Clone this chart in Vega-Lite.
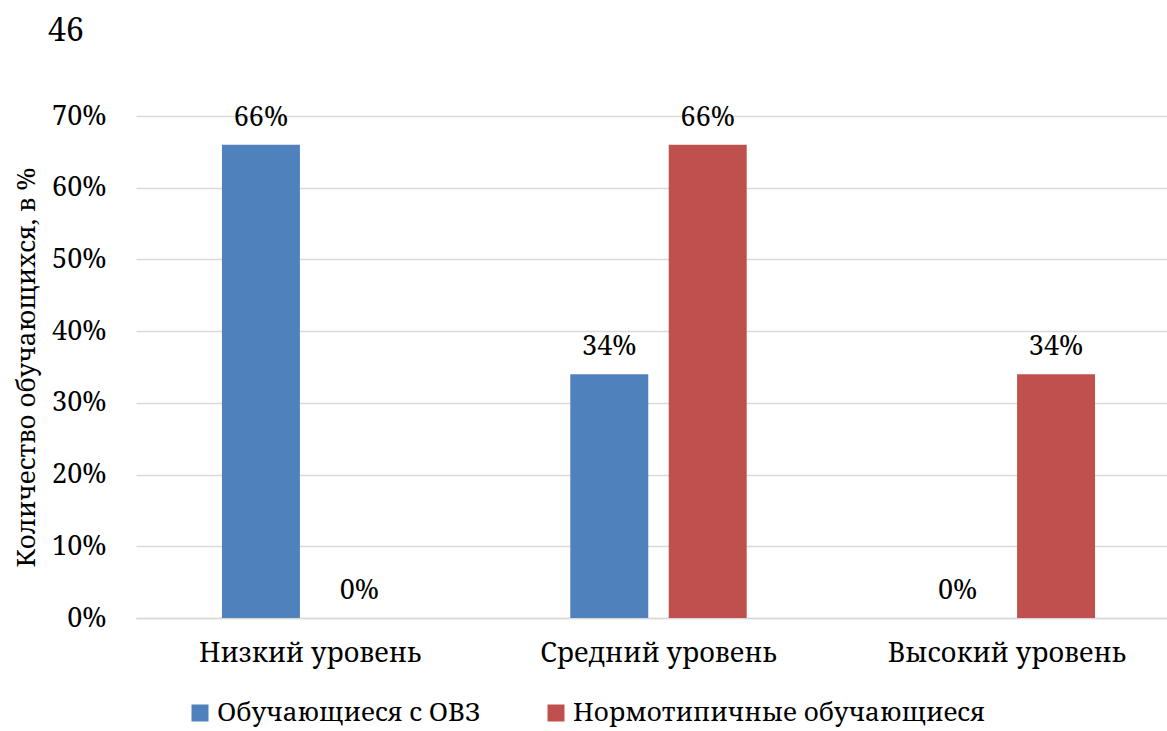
{
  "$schema": "https://vega.github.io/schema/vega-lite/v6.json",
  "autosize": {"type": "none"},
  "padding": {"left": 136, "top": 116, "right": 0, "bottom": 113},
  "width": 1031,
  "height": 502,
  "background": "white",
  "title": {"text": "46", "anchor": "start", "frame": "group", "dx": -88, "offset": 54, "font": "Noto Serif", "fontSize": 32, "fontWeight": "normal", "color": "black"},
  "data": {"values": [
    {"level": "Низкий уровень", "group": "Обучающиеся с ОВЗ", "value": 0.66},
    {"level": "Низкий уровень", "group": "Нормотипичные обучающиеся", "value": 0.0},
    {"level": "Средний уровень", "group": "Обучающиеся с ОВЗ", "value": 0.34},
    {"level": "Средний уровень", "group": "Нормотипичные обучающиеся", "value": 0.66},
    {"level": "Высокий уровень", "group": "Обучающиеся с ОВЗ", "value": 0.0},
    {"level": "Высокий уровень", "group": "Нормотипичные обучающиеся", "value": 0.34}
  ]},
  "encoding": {
    "x": {"field": "level", "type": "nominal", "sort": ["Низкий уровень", "Средний уровень", "Высокий уровень"],
      "scale": {"paddingInner": 0, "paddingOuter": 0, "range": [0, 1045]},
      "axis": {"title": null, "labelAngle": 0, "labelFont": "Noto Serif", "labelFontSize": 27, "labelColor": "black", "labelPadding": 22, "labelLimit": 600, "ticks": false, "domainColor": "#d9d9d9", "domainWidth": 1.5, "grid": false}},
    "xOffset": {"field": "group", "type": "nominal", "sort": ["Обучающиеся с ОВЗ", "Нормотипичные обучающиеся"],
      "scale": {"paddingInner": 0.208, "paddingOuter": 0.873}},
    "y": {"field": "value", "type": "quantitative", "scale": {"domain": [0, 0.7], "nice": false},
      "axis": {"title": "Количество обучающихся, в %", "format": ".0%", "values": [0, 0.1, 0.2, 0.3, 0.4, 0.5, 0.6, 0.7],
        "titleFont": "Noto Serif", "titleFontSize": 26, "titleFontWeight": "normal", "titleColor": "black", "titlePadding": 12,
        "labelFont": "Noto Serif", "labelFontSize": 27, "labelColor": "black", "labelPadding": 30,
        "domain": false, "ticks": false, "gridColor": "#d9d9d9", "gridWidth": 1.5}}
  },
  "layer": [
    {"mark": {"type": "bar"},
     "encoding": {"color": {"field": "group", "type": "nominal", "sort": ["Обучающиеся с ОВЗ", "Нормотипичные обучающиеся"],
       "scale": {"domain": ["Обучающиеся с ОВЗ", "Нормотипичные обучающиеся"], "range": ["#4f81bd", "#c0504d"]},
       "legend": {"title": null, "orient": "none", "direction": "horizontal", "legendX": 51, "legendY": 584,
         "symbolType": "square", "symbolSize": 289, "symbolStrokeWidth": 0, "labelFont": "Noto Serif", "labelFontSize": 26, "labelColor": "black", "labelOffset": 4, "columnPadding": 62, "labelLimit": 600}}}},
    {"mark": {"type": "text", "baseline": "alphabetic", "dy": -19, "font": "Noto Serif", "fontSize": 27, "color": "black"},
     "encoding": {"text": {"field": "value", "type": "quantitative", "format": ".0%"}}}
  ],
  "config": {"view": {"stroke": null}}
}
